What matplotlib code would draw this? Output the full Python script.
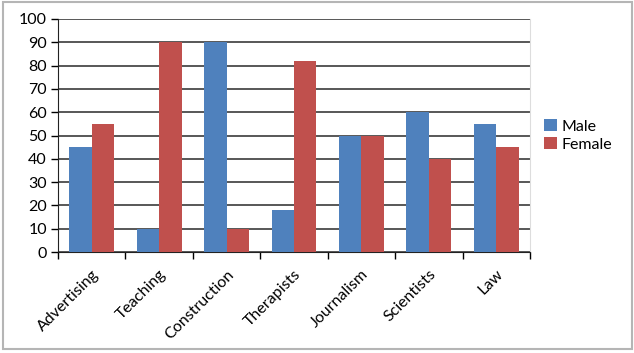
import matplotlib.pyplot as plt
import numpy as np
from matplotlib.patches import Rectangle

# Data
categories = ['Advertising', 'Teaching', 'Construction', 'Therapists',
              'Journalism', 'Scientists', 'Law']
male = [45, 10, 90, 18, 50, 60, 55]
female = [55, 90, 10, 82, 50, 40, 45]
y_ticks = list(range(0, 101, 10))

plt.rcParams['font.family'] = ['Lato', 'DejaVu Sans']

fig = plt.figure(figsize=(6.34, 3.53), dpi=100)
ax = fig.add_axes([58 / 634, 1 - 252 / 353, 472 / 634, 233 / 353])

x = np.arange(len(categories))
w = 1 / 3
ax.bar(x - w / 2, male, w, color='#4F81BD', label='Male', zorder=3)
ax.bar(x + w / 2, female, w, color='#C0504D', label='Female', zorder=3)

ax.set_xlim(-0.5, len(categories) - 0.5)
ax.set_ylim(0, 100)
ax.set_yticks(y_ticks)
ax.yaxis.grid(True, color='#4a4a4a', linewidth=1.3, zorder=1)

# category ticks sit between groups
ax.set_xticks(np.arange(len(categories) + 1) - 0.5)
ax.set_xticklabels([])
ax.set_xticks(x, minor=True)
ax.set_xticklabels(categories, minor=True, rotation=45, ha='right',
                   rotation_mode='anchor', fontsize=11.5)
ax.tick_params(axis='x', which='minor', length=0, pad=11)
ax.tick_params(axis='x', which='major', length=5, width=1, direction='out')
ax.tick_params(axis='y', length=5, width=1, labelsize=11.5, pad=3)

ax.spines['top'].set_visible(False)
ax.spines['right'].set_color('#dddddd')
ax.spines['left'].set_color('#222222')
ax.spines['bottom'].set_color('#222222')

leg = ax.legend(loc='center left', bbox_to_anchor=(1.0, 0.5), frameon=False,
                fontsize=11.5, handlelength=0.8, handleheight=0.8,
                handletextpad=0.3, labelspacing=0.2)

# outer chart border
fig.patches.append(Rectangle((3 / 634, 4 / 353), 629 / 634, 347 / 353,
                             transform=fig.transFigure, fill=False,
                             edgecolor='#b5b5b5', linewidth=1.5))

fig.savefig('out.png', dpi=100)
